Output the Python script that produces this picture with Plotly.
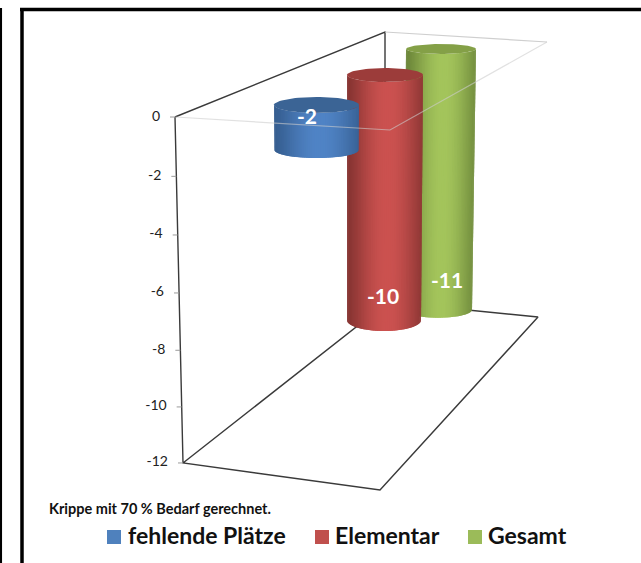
import math
import plotly.graph_objects as go

# ---- data ----
categories = ["fehlende Plätze", "Elementar", "Gesamt"]
values = [-2, -10, -11]
axis_ticks = [0, -2, -4, -6, -8, -10, -12]
note = "Krippe mit 70 % Bedarf gerechnet."

# ---- styling / layout constants ----
W, H = 641, 563
Y0_PX = 117.0            # pixel row of value 0 on the wall edge
UNIT_PX = 28.83          # pixels per value unit on the wall edge
FONT = "Lato"

swatch = ["#4f81bd", "#c0504d", "#9bbb59"]
edge_col = [(54, 94, 144), (134, 52, 50), (108, 134, 58)]
mid_col = [(80, 132, 198), (204, 82, 80), (164, 197, 92)]
cap_col = ["#3b6495", "#9c3c3a", "#84a047"]

# per bar perspective: (centre x top, half width top, cap half height top, centre x bottom, half width bottom, cap half height bottom)
geom = [
    (316.5, 42.5, 8, 316.5, 42, 8),
    (385.0, 38.0, 7, 384.0, 37, 11),
    (441.0, 35.0, 5, 438.0, 34, 8),
]
lift_px = [12.0, 42.0, 68.0]      # how far the bar's zero plane sits above the wall's zero
shrink = [0.78, 0.85, 0.822]      # depth foreshortening of the value scale
label_pos = [(307, 119), (383, 299), (447, 283)]
legend_x = [(107, 128), (315, 335), (468, 488)]
LEGEND_Y = 537


def px2v(py):
    return (Y0_PX - py) / UNIT_PX


def wall(v):
    """perspective of the front wall edge: slightly compressed towards the floor"""
    t = -v / 12.0
    return -12.0 * 1.035 * t / (1 + 0.035 * t)


def edge_x(v):
    return 175 + 8 * (v / -12.0)


def mix(a, b, k):
    return "rgb(%d,%d,%d)" % tuple(a[i] + (b[i] - a[i]) * k for i in range(3))


fig = go.Figure()


def line(pts, color, width):
    fig.add_trace(go.Scatter(
        x=[p[0] for p in pts], y=[px2v(p[1]) for p in pts], mode="lines",
        line=dict(color=color, width=width), showlegend=False, hoverinfo="skip"))


# frame behind the bars
DARK = "#3a3a3a"
line([(175, 117), (183, 463), (380, 490), (538, 317), (388, 302), (183, 463)], DARK, 1.4)
line([(175, 117), (385, 32), (385, 302)], DARK, 1.4)
line([(385, 32), (547, 42)], "#cfcfcf", 1.2)

# tick marks and labels following the slanted edge
for v in axis_ticks:
    fig.add_trace(go.Scatter(
        x=[edge_x(v) - 5, edge_x(v)], y=[wall(v), wall(v)], mode="lines",
        line=dict(color="#9a9a9a", width=1), showlegend=False, hoverinfo="skip"))
fig.add_trace(go.Scatter(
    x=[edge_x(v) - 15 for v in axis_ticks], y=[wall(v) for v in axis_ticks],
    mode="text", text=[str(v) for v in axis_ticks], textposition="middle left",
    textfont=dict(family=FONT, size=14, color="#222222"), showlegend=False, hoverinfo="skip"))


# cylinders, back to front
def cylinder(i):
    cxt, rxt, ryt, cxb, rxb, ryb = geom[i]
    top = px2v(Y0_PX - lift_px[i])
    bot = top + shrink[i] * values[i]
    N = 60
    th = [-math.pi / 2 + math.pi * k / N for k in range(N + 1)]
    for k in range(N):
        u1, u2 = math.sin(th[k]), math.sin(min(th[k + 1] + math.pi / N, math.pi / 2))
        s = (math.sin(th[k]) + math.sin(th[k + 1])) / 2
        k_shade = math.cos((s - 0.08) * math.pi / 2 / 1.08) ** 1.3
        pts_x, pts_y = [], []
        us = [u1 + (u2 - u1) * j / 3 for j in range(4)]
        for u in us:
            pts_x.append(cxt + rxt * u)
            pts_y.append(top - ryt * math.sqrt(max(0, 1 - u * u)) / UNIT_PX)
        for u in reversed(us):
            pts_x.append(cxb + rxb * u)
            pts_y.append(bot - ryb * math.sqrt(max(0, 1 - u * u)) / UNIT_PX)
        fig.add_trace(go.Scatter(
            x=pts_x, y=pts_y, mode="lines", fill="toself",
            fillcolor=mix(edge_col[i], mid_col[i], k_shade), line=dict(width=0),
            showlegend=False, hoverinfo="skip"))
    M = 72
    ang = [2 * math.pi * k / M for k in range(M + 1)]
    fig.add_trace(go.Scatter(
        x=[cxt + rxt * math.cos(a) for a in ang],
        y=[top + ryt * math.sin(a) / UNIT_PX for a in ang],
        mode="lines", fill="toself", fillcolor=cap_col[i], line=dict(width=0),
        showlegend=False, hoverinfo="skip"))


for i in (2, 1, 0):
    cylinder(i)

# pale front edges of the zero plane run over the bars
line([(175, 117), (390, 130), (547, 42)], "rgba(205,205,205,0.6)", 1.2)

# value labels
for i, v in enumerate(values):
    fig.add_trace(go.Scatter(
        x=[label_pos[i][0]], y=[px2v(label_pos[i][1])], mode="text", text=[str(v)],
        textposition="middle center",
        textfont=dict(family=FONT, size=21, color="white", weight=700),
        showlegend=False, hoverinfo="skip"))

# legend row
for i, c in enumerate(categories):
    fig.add_trace(go.Scatter(
        x=[legend_x[i][0] + 7], y=[px2v(LEGEND_Y)], mode="markers",
        marker=dict(symbol="square", size=14, color=swatch[i]),
        showlegend=False, name=c, hoverinfo="skip"))
    fig.add_trace(go.Scatter(
        x=[legend_x[i][1]], y=[px2v(LEGEND_Y + 1.5)], mode="text", text=[c],
        textposition="middle right",
        textfont=dict(family=FONT, size=23, color="#111111", weight=700),
        showlegend=False, hoverinfo="skip"))

fig.update_layout(
    width=W, height=H, autosize=False, showlegend=False,
    margin=dict(l=0, r=0, t=0, b=0),
    paper_bgcolor="white", plot_bgcolor="white",
    xaxis=dict(range=[0, W], visible=False, fixedrange=True),
    yaxis=dict(range=[px2v(H), px2v(0)], visible=False, fixedrange=True),
    annotations=[dict(text=note, x=47 / W, y=1 - 508 / H, xref="paper", yref="paper",
                      xanchor="left", yanchor="middle", showarrow=False,
                      font=dict(family=FONT, size=14.5, color="#111111", weight=700))],
    shapes=[
        dict(type="line", xref="paper", yref="paper", x0=22 / W, x1=22 / W, y0=0, y1=1 - 8 / H,
             line=dict(color="black", width=3.5)),
        dict(type="line", xref="paper", yref="paper", x0=20 / W, x1=1, y0=1 - 9.5 / H, y1=1 - 9.5 / H,
             line=dict(color="black", width=3.5)),
        dict(type="line", xref="paper", yref="paper", x0=0.8 / W, x1=0.8 / W, y0=0, y1=1 - 8 / H,
             line=dict(color="black", width=2.5)),
    ],
)

fig.write_html("out.html", post_script="document.body.style.margin='0';",
               config={"displayModeBar": False})
